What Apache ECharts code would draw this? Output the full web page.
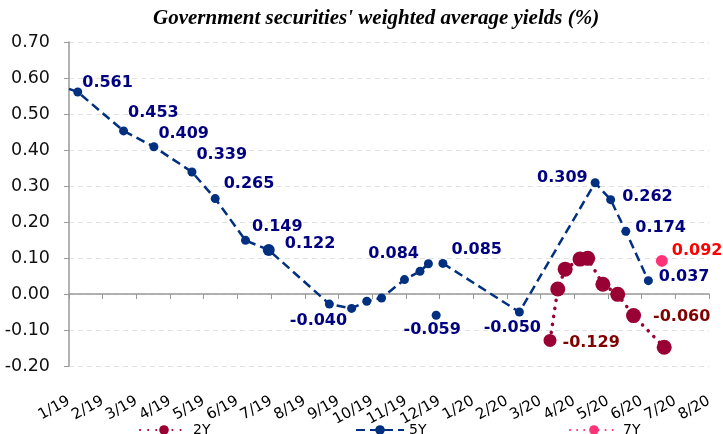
<!DOCTYPE html>
<html>
<head>
<meta charset="utf-8">
<script src="https://cdn.jsdelivr.net/npm/echarts@6/dist/echarts.min.js"></script>
<style>html,body{margin:0;padding:0;background:#fff}#c{width:723px;height:434px}</style>
</head>
<body>
<div id="c"></div>
<script>
// month tick labels (x index 0..19)
const months = ['1/19','2/19','3/19','4/19','5/19','6/19','7/19','8/19','9/19','10/19','11/19','12/19','1/20','2/20','3/20','4/20','5/20','6/20','7/20','8/20'];
// 5Y series: x position in months since 1/19, yield ('-' = gap)
const x5Y = [0, 0.26, 1.62, 2.52, 3.65, 4.34, 5.24, 5.93, 7.73, 8.39, 8.84, 9.28, 9.96, 10.42, 10.67, 10.78, 10.9, 11.0, 11.1, 13.37, 15.62, 16.08, 16.53, 17.2];
const y5Y = [0.570, 0.561, 0.453, 0.409, 0.339, 0.265, 0.149, 0.122, -0.028, -0.040, -0.020, -0.011, 0.040, 0.063, 0.084, '-', -0.059, '-', 0.085, -0.050, 0.309, 0.262, 0.174, 0.037];
// 2Y series
const x2Y = [14.28, 14.51, 14.73, 15.17, 15.40, 15.85, 16.29, 16.76, 17.67];
const y2Y = [-0.129, 0.014, 0.069, 0.097, 0.099, 0.027, -0.001, -0.060, -0.148];
// 7Y series
const x7Y = [17.6];
const y7Y = [0.092];

// label placement (style, not data)
const lab5Y = {
  1:['right',[0,-9]], 2:['right',[0,-18]], 3:['right',[0,-13]], 4:['right',[0,-17]],
  5:['right',[4,-15]], 6:['right',[2,-14]], 7:['right',[10,-6]], 9:['left',[0,12]],
  14:['left',[-5,-10]], 16:['bottom',[-4,2]], 18:['right',[4,-14]], 19:['bottom',[-7,3]],
  20:['left',[-3,-5]], 21:['right',[7,-3]], 22:['right',[5,-4]], 23:['right',[6,-4]]
};
const lab2Y = {0:['right',[6,2]], 7:['right',[12,1]]};
const lab7Y = {0:['right',[4,-10]]};
const big5Y = {7:12, 0:0};
const size2Y = {0:13};

function build(xs, ys, labs, sizes, labColor){
  return xs.map((x,i)=>{
    const item = {value:[x, ys[i]]};
    if (sizes && sizes[i] !== undefined){
      if (sizes[i] === 0) item.symbol = 'none'; else item.symbolSize = sizes[i];
    }
    if (labs[i]){
      item.label = {show:true, position:labs[i][0], offset:labs[i][1], distance:0,
        formatter:(p)=>p.value[1].toFixed(3), color:labColor,
        fontFamily:'DejaVu Sans', fontWeight:'bold', fontSize:16};
    }
    return item;
  });
}

const chart = echarts.init(document.getElementById('c'), null, {renderer:'canvas'});
const c5 = '#00307f', c2 = '#990033', c7 = '#ff3377';
const legendText = {fontFamily:'DejaVu Sans', fontSize:14, color:'#000'};
chart.setOption({
  animation:false,
  title:{text:"Government securities' weighted average yields (%)", left:148, top:3,
    textStyle:{fontFamily:'Liberation Serif', fontStyle:'italic', fontWeight:'bold', fontSize:21, color:'#000'}},
  grid:{left:69, right:14, top:42, bottom:68, containLabel:false, outerBoundsMode:'none'},
  xAxis:[
    {type:'value', min:0, max:19, interval:1,
      axisLine:{onZero:true, lineStyle:{color:'#999', width:1.5}},
      axisTick:{show:true, length:5, lineStyle:{color:'#999'}},
      splitLine:{show:false}, axisLabel:{show:false}},
    {type:'value', min:0, max:19, interval:1, position:'bottom', offset:0,
      axisLine:{show:false, onZero:false}, axisTick:{show:false}, splitLine:{show:false},
      axisLabel:{margin:34, rotate:29, fontFamily:'DejaVu Sans', fontSize:15, color:'#000',
        formatter:(v)=>months[Math.round(v)] || ''}}
  ],
  yAxis:{type:'value', min:-0.2, max:0.7, interval:0.1,
    axisLine:{show:true, lineStyle:{color:'#999', width:1.5}},
    axisTick:{show:true, length:5, lineStyle:{color:'#999'}},
    splitLine:{show:true, lineStyle:{color:'#e2e2e2', type:[5,4]}},
    axisLabel:{margin:19, fontFamily:'DejaVu Sans', fontSize:17.5, color:'#111',
      formatter:(v)=>v.toFixed(2)}},
  legend:[
    {data:['2Y'], left:134, top:418, itemWidth:48, itemHeight:12, textStyle:legendText},
    {data:['5Y'], left:350, top:418, itemWidth:48, itemHeight:12, textStyle:legendText},
    {data:['7Y'], left:564, top:418, itemWidth:48, itemHeight:12, textStyle:legendText}
  ],
  series:[
    {name:'2Y', type:'line', data:build(x2Y,y2Y,lab2Y,size2Y,'#800000'), symbol:'circle', symbolSize:15,
      itemStyle:{color:c2}, lineStyle:{color:c2, width:3.5, type:[0.1,8], cap:'round'}, z:3},
    {name:'5Y', type:'line', data:build(x5Y,y5Y,lab5Y,big5Y,'#000080'), symbol:'circle', symbolSize:9,
      connectNulls:false, itemStyle:{color:c5}, lineStyle:{color:c5, width:2.5, type:[9,5]}, z:4},
    {name:'7Y', type:'line', data:build(x7Y,y7Y,lab7Y,null,'#ff0000'), symbol:'circle', symbolSize:12,
      itemStyle:{color:c7}, lineStyle:{color:c7, width:3, type:[0.1,7], cap:'round'}, z:5}
  ]
});
</script>
</body>
</html>
